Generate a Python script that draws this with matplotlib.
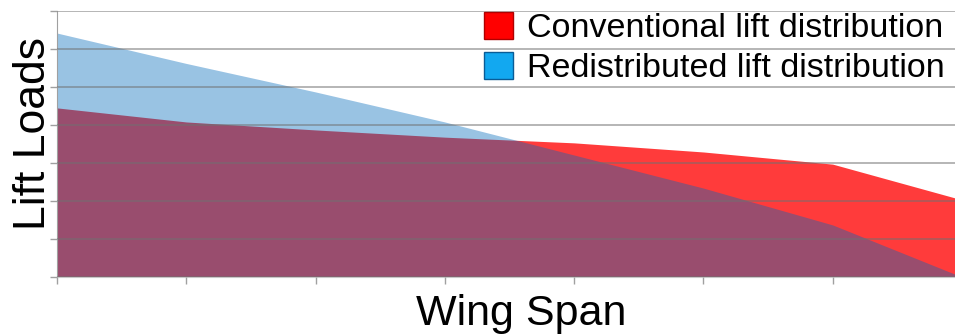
import matplotlib
matplotlib.use("Agg")
import matplotlib.pyplot as plt
from matplotlib.patches import Patch

span_positions = [0, 1, 2, 3, 4, 5, 6, 7]
conventional = [4.45, 4.08, 3.87, 3.68, 3.53, 3.29, 2.97, 2.03]
redistributed = [6.42, 5.62, 4.87, 4.08, 3.21, 2.34, 1.37, 0.0]
legend_labels = ["Conventional lift distribution", "Redistributed lift distribution"]

W, H = 955, 335
fig = plt.figure(figsize=(W / 100, H / 100), dpi=100)
ax = fig.add_axes([57 / W, (H - 277) / H, 905 / W, 266 / H])

ax.fill_between(span_positions, 0, conventional, color="#FF3B3B", lw=0, zorder=1)
ax.fill_between(span_positions, 0, redistributed, color="#0069BB", alpha=0.4, lw=0, zorder=2)

ax.set_xlim(0, 7)
ax.set_ylim(0, 7)
ax.set_xticks(span_positions)
ax.set_yticks(range(8))
ax.set_xticklabels([])
ax.set_yticklabels([])
ax.yaxis.grid(True, color="#707070", alpha=0.6, lw=1.2, zorder=3)
ax.set_axisbelow(False)
for s in ["top", "right"]:
    ax.spines[s].set_visible(False)
ax.spines["left"].set_color("#A0A0A0")
ax.spines["bottom"].set_color("#C8C8C8")
ax.tick_params(axis="both", colors="#A0A0A0", length=5, width=1)

font = "Liberation Sans"
ax.set_xlabel("Wing Span", fontsize=31, family=font, va="baseline")
ax.xaxis.set_label_coords((521 - 57) / 905, (277 - 325) / 266)
ax.set_ylabel("Lift Loads", fontsize=32, family=font, va="baseline")
ax.yaxis.set_label_coords((45 - 57) / 905, (277 - 133) / 266)

handles = [Patch(facecolor="#FF0000", edgecolor="#B00000"),
           Patch(facecolor="#12A8F0", edgecolor="#0A5C96")]
leg = fig.legend(handles, legend_labels, loc="upper left",
                 bbox_to_anchor=(484 / W, 1 - 12 / H),
                 frameon=False, prop={"family": font, "size": 24.5},
                 handlelength=0.85, handleheight=0.85, handletextpad=0.4,
                 labelspacing=0.22, borderpad=0, borderaxespad=0)

fig.savefig("out.png", dpi=100)
